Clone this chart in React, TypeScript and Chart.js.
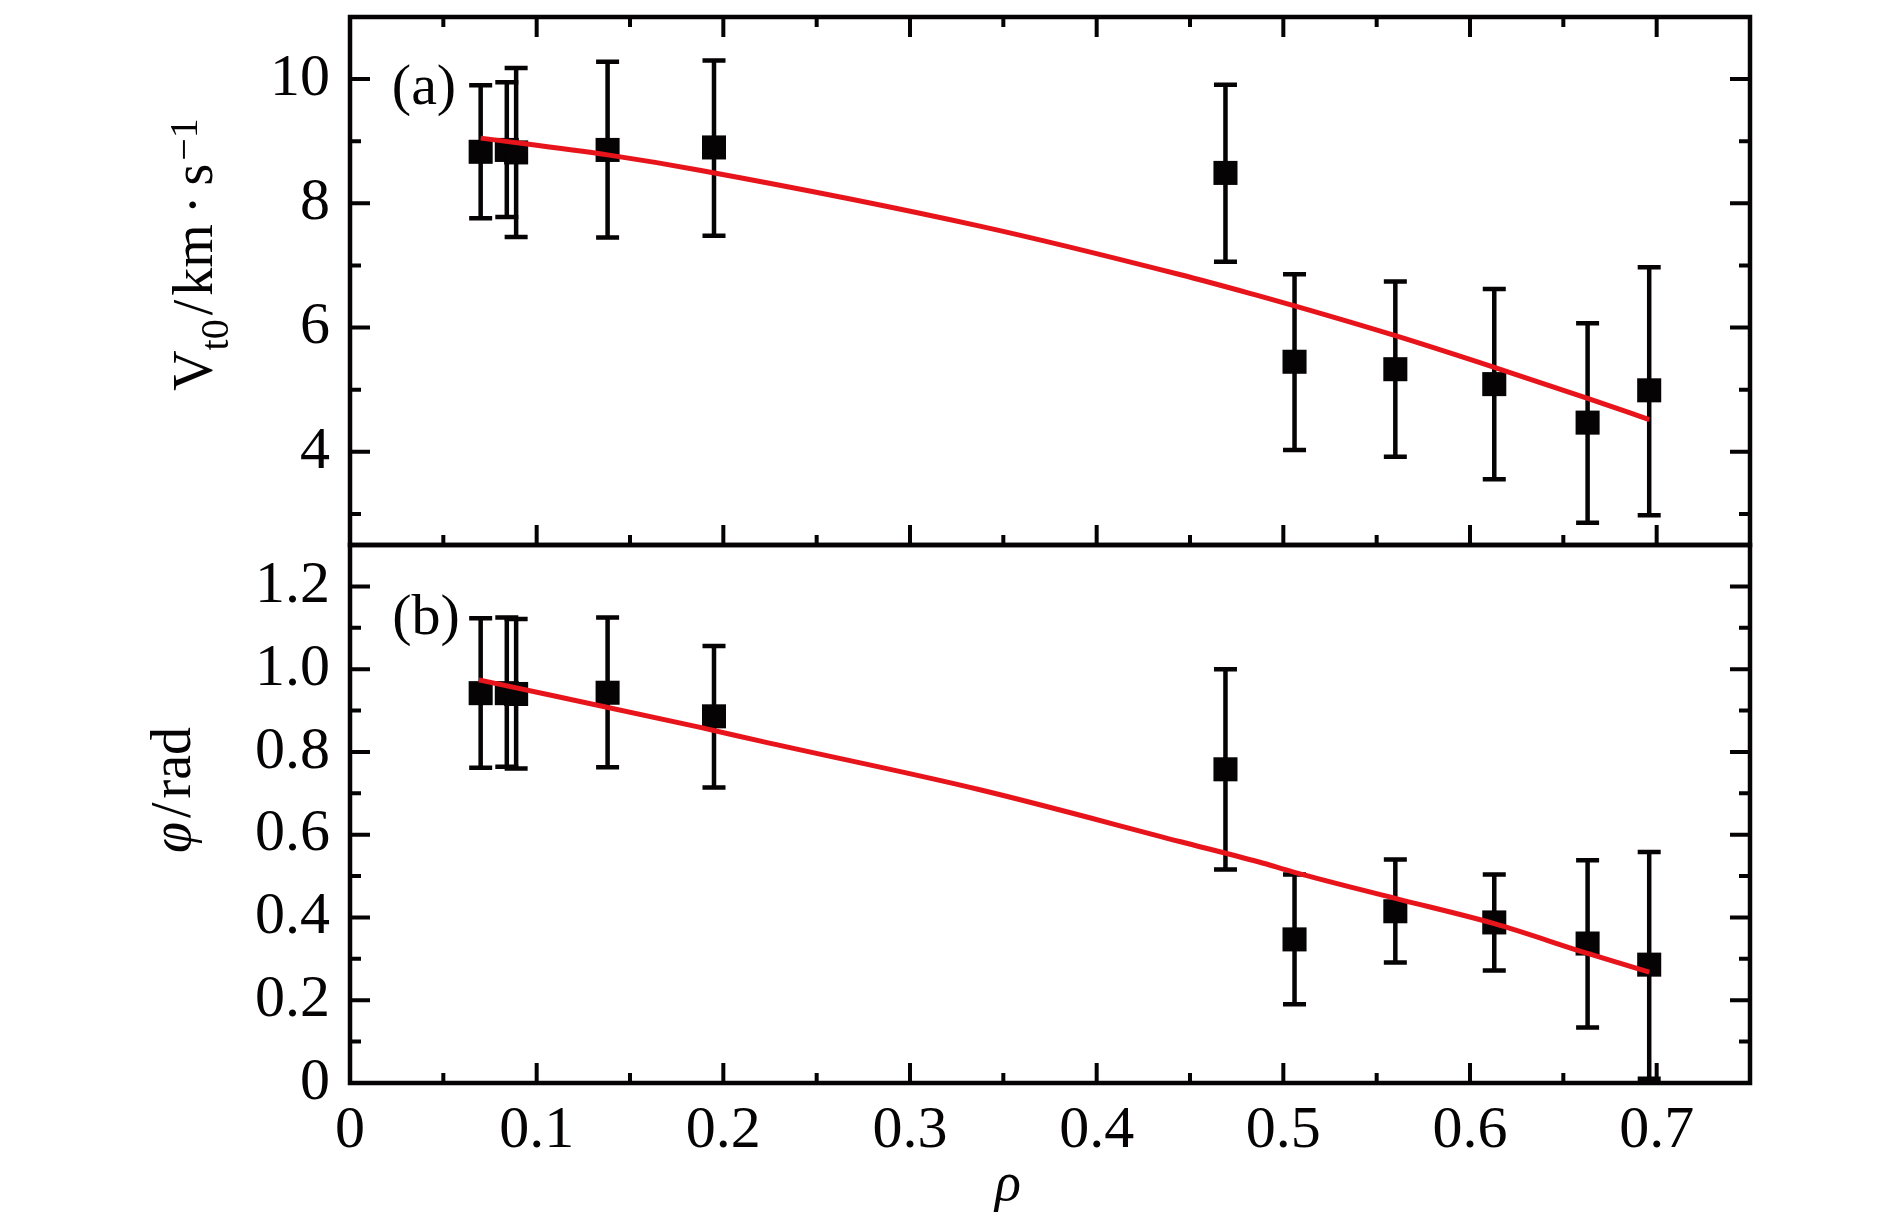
import { useEffect, useRef } from 'react';
import { Chart, registerables } from 'chart.js';

Chart.register(...registerables);

// measurement positions (normalised radius), shared by both panels
const rho = [0.07, 0.084, 0.089, 0.138, 0.195, 0.469, 0.506, 0.56, 0.613, 0.663, 0.696];

// panel (a): V_t0 [km/s]
const vt0 = [8.83, 8.86, 8.82, 8.86, 8.9, 8.49, 5.45, 5.33, 5.09, 4.47, 4.99];
const vt0Upper = [9.9, 9.95, 10.18, 10.28, 10.3, 9.91, 6.86, 6.74, 6.62, 6.07, 6.97];
const vt0Lower = [7.76, 7.78, 7.46, 7.45, 7.48, 7.06, 4.03, 3.92, 3.56, 2.86, 2.98];
const vt0FitRho = [0.07, 0.138, 0.188, 0.338, 0.445, 0.487, 0.506, 0.56, 0.613, 0.663, 0.696];
const vt0Fit = [9.05, 8.78, 8.53, 7.63, 6.85, 6.51, 6.35, 5.87, 5.36, 4.86, 4.52];

// panel (b): phi [rad]
const phi = [0.942, 0.942, 0.94, 0.943, 0.886, 0.758, 0.347, 0.415, 0.388, 0.337, 0.286];
const phiUpper = [1.123, 1.125, 1.121, 1.125, 1.056, 1.0, 0.504, 0.54, 0.504, 0.538, 0.558];
const phiLower = [0.762, 0.764, 0.76, 0.763, 0.714, 0.516, 0.19, 0.291, 0.272, 0.134, 0.01];
const phiFitRho = [0.069, 0.187, 0.22, 0.338, 0.445, 0.487, 0.506, 0.56, 0.613, 0.663, 0.696];
const phiFit = [0.974, 0.86, 0.826, 0.708, 0.583, 0.534, 0.509, 0.446, 0.385, 0.313, 0.268];

// axis ticks
const xMajorTicks = [0, 0.1, 0.2, 0.3, 0.4, 0.5, 0.6, 0.7];
const xMinorTicks = [0.05, 0.15, 0.25, 0.35, 0.45, 0.55, 0.65];
const vMajorTicks = [4, 6, 8, 10];
const vMinorTicks = [3, 5, 7, 9];
const phiMajorTicks = [0, 0.2, 0.4, 0.6, 0.8, 1.0, 1.2];
const phiMinorTicks = [0.1, 0.3, 0.5, 0.7, 0.9, 1.1];

const INK = '#050303';
const RED = '#e8141b';
const SERIF = "'Liberation Serif', 'DejaVu Serif', serif";

type Piece = { text: string; size: number; italic?: boolean; dy?: number; gap?: number };

// draws a run of text pieces (sub/superscripts) centred on `center`
function drawPieces(ctx: CanvasRenderingContext2D, pieces: Piece[], center: number, baseline: number, rotated: boolean) {
  ctx.save();
  ctx.fillStyle = INK;
  ctx.textBaseline = 'alphabetic';
  ctx.textAlign = 'left';
  const fontOf = (p: Piece) => `${p.italic ? 'italic ' : ''}${p.size}px ${SERIF}`;
  const widths = pieces.map((p) => {
    ctx.font = fontOf(p);
    return ctx.measureText(p.text).width + (p.gap ?? 0) * 2;
  });
  const total = widths.reduce((a, b) => a + b, 0);
  if (rotated) {
    ctx.translate(baseline, center);
    ctx.rotate(-Math.PI / 2);
  } else {
    ctx.translate(center, baseline);
  }
  let pos = -total / 2;
  pieces.forEach((p, i) => {
    ctx.font = fontOf(p);
    ctx.fillText(p.text, pos + (p.gap ?? 0), p.dy ?? 0);
    pos += widths[i];
  });
  ctx.restore();
}

const errorBars = (lower: number[], upper: number[]) => ({
  id: 'errorBars',
  beforeDatasetsDraw(chart: Chart) {
    const { ctx, scales } = chart;
    const x = scales.x;
    const y = scales.y;
    ctx.save();
    ctx.strokeStyle = INK;
    ctx.lineWidth = 4.5;
    ctx.lineCap = 'butt';
    rho.forEach((r, i) => {
      const px = x.getPixelForValue(r);
      const top = y.getPixelForValue(upper[i]);
      const bot = y.getPixelForValue(lower[i]);
      ctx.beginPath();
      ctx.moveTo(px, top);
      ctx.lineTo(px, bot);
      ctx.moveTo(px - 11.5, top);
      ctx.lineTo(px + 11.5, top);
      ctx.moveTo(px - 11.5, bot);
      ctx.lineTo(px + 11.5, bot);
      ctx.stroke();
    });
    ctx.restore();
  },
});

const frame = (yMajor: number[], yMinor: number[], topTicks: boolean) => ({
  id: 'frame',
  afterDraw(chart: Chart) {
    const { ctx, chartArea: a, scales } = chart;
    const x = scales.x;
    const y = scales.y;
    ctx.save();
    ctx.strokeStyle = INK;
    ctx.lineWidth = 4.5;
    ctx.strokeRect(a.left, a.top, a.right - a.left, a.bottom - a.top);
    ctx.lineWidth = 4;
    ctx.beginPath();
    const xTick = (v: number, len: number) => {
      const px = x.getPixelForValue(v);
      ctx.moveTo(px, a.bottom);
      ctx.lineTo(px, a.bottom - len);
      if (topTicks) {
        ctx.moveTo(px, a.top);
        ctx.lineTo(px, a.top + len);
      }
    };
    const yTick = (v: number, len: number) => {
      const py = y.getPixelForValue(v);
      ctx.moveTo(a.left, py);
      ctx.lineTo(a.left + len, py);
      ctx.moveTo(a.right, py);
      ctx.lineTo(a.right - len, py);
    };
    xMajorTicks.forEach((v) => xTick(v, 20));
    xMinorTicks.forEach((v) => xTick(v, 10));
    yMajor.forEach((v) => yTick(v, 20));
    yMinor.forEach((v) => yTick(v, 11));
    ctx.stroke();
    ctx.restore();
  },
});

const labels = (draw: (ctx: CanvasRenderingContext2D) => void) => ({
  id: 'labels',
  afterDraw(chart: Chart) {
    draw(chart.ctx);
  },
});

const fmtDecimal = (v: number) => (v === 0 ? '0' : v.toFixed(1));
const fmtInteger = (v: number) => String(Math.round(v));

const tickFont = { family: SERIF, size: 60 };

function makePanel(canvas: HTMLCanvasElement, panel: 'a' | 'b') {
  const top = panel === 'a';
  const values = top ? vt0 : phi;
  const fitRho = top ? vt0FitRho : phiFitRho;
  const fit = top ? vt0Fit : phiFit;
  const yMajor = top ? vMajorTicks : phiMajorTicks;
  const yMinor = top ? vMinorTicks : phiMinorTicks;

  return new Chart(canvas, {
    type: 'scatter',
    data: {
      datasets: [
        {
          label: 'fit',
          data: fitRho.map((r, i) => ({ x: r, y: fit[i] })),
          showLine: true,
          borderColor: RED,
          borderWidth: 5,
          pointRadius: 0,
          cubicInterpolationMode: 'monotone',
          order: 0,
        },
        {
          label: 'data',
          data: rho.map((r, i) => ({ x: r, y: values[i] })),
          pointStyle: 'rect',
          pointRadius: 17,
          backgroundColor: INK,
          borderWidth: 0,
          order: 1,
        },
      ],
    },
    options: {
      animation: false,
      responsive: false,
      events: [],
      layout: {
        padding: top
          ? { left: 0, top: 9, right: 140, bottom: 684 }
          : { left: 0, top: 545, right: 140, bottom: 0 },
      },
      plugins: { legend: { display: false }, tooltip: { enabled: false } },
      scales: {
        x: {
          type: 'linear',
          min: 0,
          max: 0.75,
          display: !top,
          afterBuildTicks: (s: any) => {
            s.ticks = xMajorTicks.map((value) => ({ value }));
          },
          afterFit: (s: any) => {
            s.height = top ? 0 : 146;
            s.paddingLeft = 0;
            s.paddingRight = 0;
          },
          ticks: { font: tickFont, color: INK, padding: 12, maxRotation: 0, callback: (v: any) => fmtDecimal(Number(v)) },
          grid: { display: false, drawTicks: false },
          border: { display: false },
        },
        y: {
          type: 'linear',
          min: top ? 2.5 : 0,
          max: top ? 11 : 1.3,
          afterBuildTicks: (s: any) => {
            s.ticks = yMajor.map((value) => ({ value }));
          },
          afterFit: (s: any) => {
            s.width = 350;
            s.paddingTop = 0;
            s.paddingBottom = 0;
          },
          ticks: {
            font: tickFont,
            color: INK,
            padding: 20,
            callback: (v: any) => (top ? fmtInteger(Number(v)) : fmtDecimal(Number(v))),
          },
          grid: { display: false, drawTicks: false },
          border: { display: false },
        },
      },
    },
    plugins: [
      errorBars(top ? vt0Lower : phiLower, top ? vt0Upper : phiUpper),
      frame(yMajor, yMinor, top),
      labels((ctx) => {
        if (top) {
          drawPieces(ctx, [{ text: '(a)', size: 58 }], 424, 104, false);
          drawPieces(
            ctx,
            [
              { text: 'V', size: 56 },
              { text: 't0', size: 40, dy: 16 },
              { text: '/', size: 56, gap: 4 },
              { text: 'km', size: 56 },
              { text: '·', size: 56, gap: 10 },
              { text: 's', size: 56 },
              { text: '−1', size: 40, dy: -15, gap: 3 },
            ],
            253,
            212,
            true,
          );
        } else {
          drawPieces(ctx, [{ text: '(b)', size: 58 }], 426, 634, false);
          drawPieces(
            ctx,
            [
              { text: 'φ', size: 56, italic: true },
              { text: '/', size: 56, gap: 4 },
              { text: 'rad', size: 56 },
            ],
            790,
            190,
            true,
          );
          drawPieces(ctx, [{ text: 'ρ', size: 54, italic: true }], 1008, 1200, false);
        }
      }),
    ],
  });
}

const App = () => {
  const topRef = useRef<HTMLCanvasElement | null>(null);
  const bottomRef = useRef<HTMLCanvasElement | null>(null);

  useEffect(() => {
    document.body.style.margin = '0';
    if (!topRef.current || !bottomRef.current) return;
    const a = makePanel(topRef.current, 'a');
    const b = makePanel(bottomRef.current, 'b');
    return () => {
      a.destroy();
      b.destroy();
    };
  }, []);

  const canvasStyle = { position: 'absolute' as const, left: 0, top: 0 };

  return (
    <div style={{ position: 'relative', width: 1890, height: 1229, background: '#fff' }}>
      <canvas ref={topRef} width={1890} height={1229} style={canvasStyle} />
      <canvas ref={bottomRef} width={1890} height={1229} style={canvasStyle} />
    </div>
  );
};

export default App;
